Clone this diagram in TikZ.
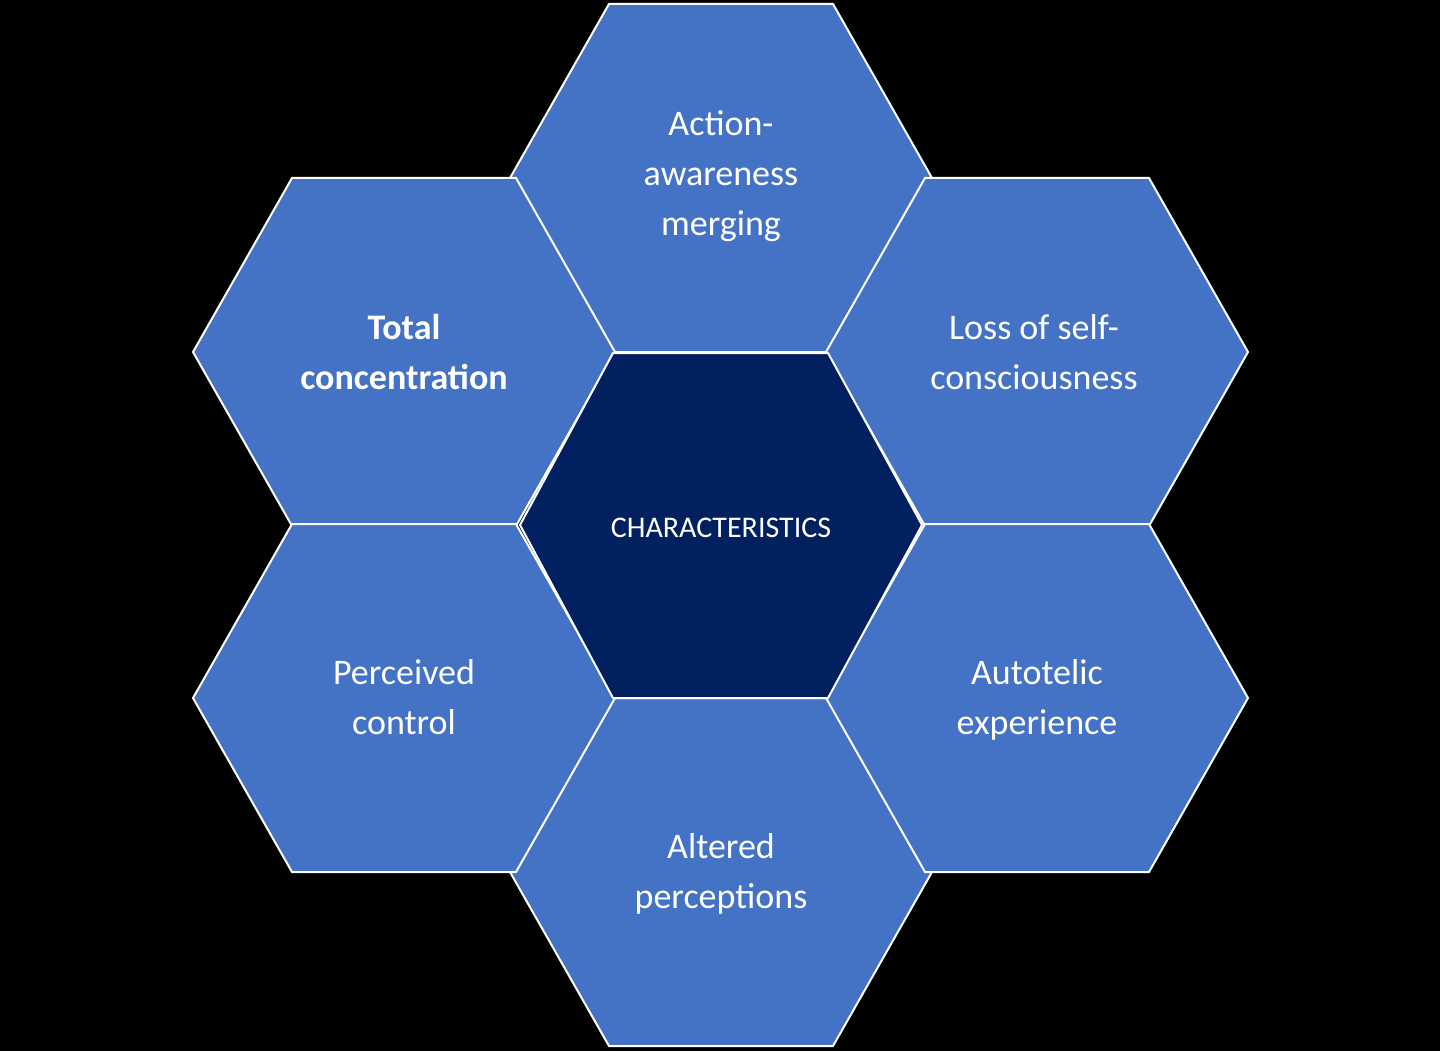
\documentclass[tikz,border=0pt]{standalone}
\usepackage{fontspec}
\setmainfont{Carlito}
\definecolor{hexblue}{HTML}{4472C4}
\definecolor{hexdark}{HTML}{002060}
\begin{document}
\begin{tikzpicture}[x=1pt,y=-1pt,
  hexlbl/.style={text=white,align=center,font=\fontsize{36}{50}\selectfont},
  hexedge/.style={draw=white,line width=2pt,line join=miter}]
\fill[black] (0,0) rectangle (1440,1051);
\useasboundingbox (0,0) rectangle (1440,1051);
\newcommand{\hexat}[3]{%
  \filldraw[hexedge,fill=#3] (#1-211,#2) -- (#1-112,#2-174) -- (#1+112,#2-174) -- (#1+211,#2) -- (#1+112,#2+174) -- (#1-112,#2+174) -- cycle;}
\hexat{721}{178}{hexblue}
\hexat{721}{872}{hexblue}
\hexat{404}{352}{hexblue}
\hexat{1037}{352}{hexblue}
\hexat{404}{698}{hexblue}
\hexat{1037}{698}{hexblue}
\filldraw[hexedge,fill=hexdark] (520,525) -- (613,353) -- (828,353) -- (922,525) -- (828,698) -- (613,698) -- cycle;
\node[hexlbl] (c) at (721,528) {\fontsize{30}{36}\selectfont CHARACTERISTICS};
\node[hexlbl] (t) at (721,176) {Action-\\awareness\\merging};
\node[hexlbl] (ul) at (404,352) {\bfseries Total\\\bfseries concentration};
\node[hexlbl] (ur) at (1034,352) {Loss of self-\\consciousness};
\node[hexlbl] (ll) at (404,697) {Perceived\\control};
\node[hexlbl] (lr) at (1037,700) {Autotelic\\experience};
\node[hexlbl] (b) at (721,874) {Altered\\perceptions};
\end{tikzpicture}
\end{document}
